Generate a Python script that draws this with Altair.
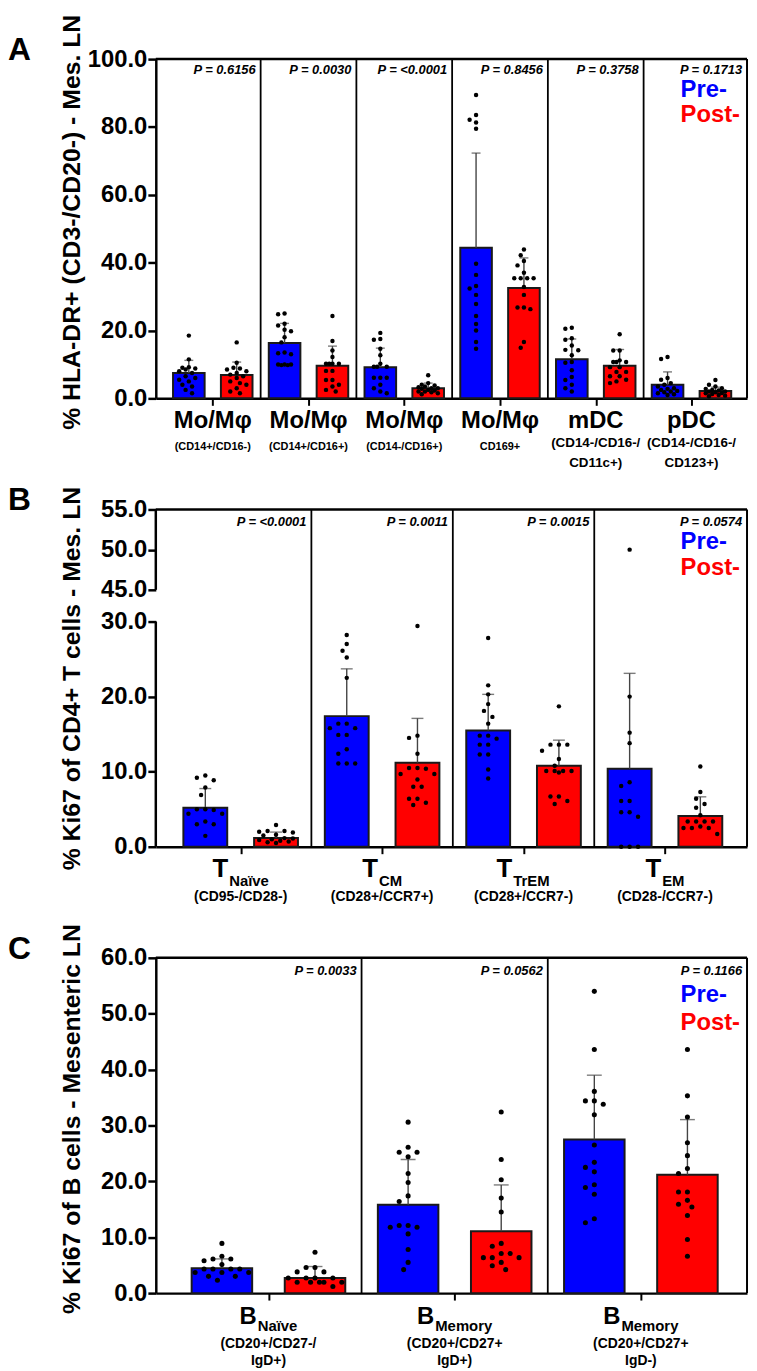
import altair as alt
import pandas as pd

FONT = "Liberation Sans"
BLUE = "#0000FF"
RED = "#FF0000"
W = 596

# ---------------- Panel A data ----------------
a_names = ["Mo/Mφ", "Mo/Mφ", "Mo/Mφ", "Mo/Mφ", "mDC", "pDC"]
a_subs = [["(CD14+/CD16-)"], ["(CD14+/CD16+)"], ["(CD14-/CD16+)"], ["CD169+"],
          ["(CD14-/CD16-/", "CD11c+)"], ["(CD14-/CD16-/", "CD123+)"]]
a_pvals = ["P = 0.6156", "P = 0.0030", "P = <0.0001", "P = 0.8456", "P = 0.3758", "P = 0.1713"]
a_pre_mean = [7.5, 16.3, 9.2, 44.4, 11.5, 4.0]
a_pre_sd = [3.7, 5.8, 5.6, 27.9, 6.0, 3.8]
a_post_mean = [6.9, 9.6, 3.0, 32.5, 9.6, 2.2]
a_post_sd = [3.8, 5.8, 1.5, 8.9, 4.8, 1.1]
a_pre_pts = [
    [18.5, 11.5, 9.2, 9.0, 8.8, 8.5, 8.0, 7.5, 6.5, 6.0, 5.5, 5.0, 4.0, 3.5, 2.5, 1.5],
    [25.0, 24.8, 22.0, 21.5, 20.2, 19.8, 18.0, 16.5, 13.5, 13.3, 13.0, 10.0, 10.0, 10.0, 9.8, 9.8],
    [19.3, 17.5, 17.3, 14.6, 12.7, 10.2, 9.3, 9.3, 9.3, 6.1, 6.1, 6.1, 4.0, 3.0, 2.0, 1.5],
    [89.4, 83.5, 82.1, 81.3, 79.5, 39.7, 36.4, 33.1, 32.4, 30.5, 27.8, 24.3, 21.9, 20.0, 16.6, 14.6],
    [20.8, 20.5, 17.7, 17.3, 15.6, 14.3, 14.2, 12.7, 10.7, 10.5, 8.3, 6.3, 5.4, 4.0, 3.0, 2.0],
    [12.2, 11.6, 6.0, 5.5, 4.5, 4.0, 3.5, 3.0, 2.8, 2.5, 2.2, 2.0, 1.8, 1.5, 1.2, 1.0],
]
a_post_pts = [
    [16.5, 10.5, 9.0, 8.8, 8.5, 8.0, 7.5, 7.0, 6.5, 6.0, 5.0, 4.5, 4.0, 3.0, 2.0, 1.5],
    [24.3, 16.9, 14.1, 12.2, 10.2, 10.2, 10.2, 10.2, 8.1, 8.1, 5.4, 5.4, 4.0, 3.5, 2.5, 2.0],
    [6.8, 4.5, 4.0, 3.8, 3.5, 3.3, 3.0, 3.0, 2.8, 2.5, 2.3, 2.0, 2.0, 1.8, 1.5, 1.2],
    [43.9, 42.2, 40.5, 39.2, 37.0, 35.4, 35.4, 35.4, 35.4, 32.8, 30.5, 26.8, 26.8, 26.3, 16.6, 14.9],
    [18.9, 14.1, 14.1, 11.2, 10.7, 10.7, 10.7, 9.2, 9.2, 7.8, 7.8, 6.5, 6.5, 5.5, 5.0, 4.5],
    [5.4, 4.0, 3.5, 3.0, 2.8, 2.5, 2.3, 2.0, 2.0, 1.8, 1.6, 1.5, 1.3, 1.0, 0.8, 0.6],
]
a_yticks = [0, 20, 40, 60, 80, 100]

# ---------------- Panel B data ----------------
b_main = ["T", "T", "T", "T"]
b_subscripts = ["Naïve", "CM", "TrEM", "EM"]
b_subs = ["(CD95-/CD28-)", "(CD28+/CCR7+)", "(CD28+/CCR7-)", "(CD28-/CCR7-)"]
b_pvals = ["P = <0.0001", "P = 0.0011", "P = 0.0015", "P = 0.0574"]
b_pre_mean = [5.2, 17.4, 15.5, 10.4]
b_pre_sd = [2.55, 6.3, 4.8, 12.7]
b_post_mean = [1.15, 11.2, 10.8, 4.1]
b_post_sd = [0.8, 5.9, 3.4, 2.55]
b_pre_pts = [
    [9.5, 9.2, 8.85, 7.9, 6.9, 5.0, 5.0, 4.9, 4.4, 4.4, 3.35, 3.0, 3.0, 1.45],
    [28.2, 27.0, 26.1, 25.2, 22.5, 16.4, 16.4, 15.8, 15.8, 14.9, 14.9, 13.0, 12.4, 11.1, 11.1, 11.1],
    [27.8, 21.5, 20.3, 19.0, 18.1, 17.3, 16.4, 14.8, 14.8, 14.4, 13.6, 13.6, 12.3, 12.3, 10.3, 9.1],
    [50.0, 20.0, 15.2, 13.8, 8.6, 8.1, 6.1, 6.1, 4.6, 4.6, 4.0, 0.0, 0.0, 0.0],
]
b_post_pts = [
    [2.9, 2.1, 2.1, 2.0, 1.9, 1.6, 1.5, 1.15, 1.1, 1.0, 0.9, 0.8, 0.7, 0.6, 0.5],
    [29.4, 14.8, 14.5, 12.4, 10.5, 10.5, 10.4, 9.7, 9.7, 8.95, 8.0, 8.0, 6.4, 6.4, 5.85, 5.55],
    [18.7, 13.6, 13.6, 13.6, 12.8, 11.7, 10.8, 10.1, 10.1, 10.1, 10.1, 9.9, 6.7, 6.7, 6.1, 5.7],
    [10.7, 7.3, 6.4, 5.7, 5.2, 4.2, 3.35, 3.35, 3.35, 3.35, 2.7, 2.5, 2.5, 2.5, 1.7],
]
b_yticks = [0, 10, 20, 30, 45, 50, 55]
b_breaks = [0, 30, 45, 55]

# ---------------- Panel C data ----------------
c_main = ["B", "B", "B"]
c_subscripts = ["Naïve", "Memory", "Memory"]
c_subs = [["(CD20+/CD27-/", "IgD+)"], ["(CD20+/CD27+", "IgD+)"], ["(CD20+/CD27+", "IgD-)"]]
c_pvals = ["P = 0.0033", "P = 0.0562", "P = 0.1166"]
c_pre_mean = [4.47, 15.8, 27.5]
c_pre_sd = [1.65, 8.1, 11.5]
c_post_mean = [2.7, 11.06, 21.2]
c_post_sd = [2.06, 8.3, 9.85]
c_pre_pts = [
    [8.9, 6.6, 6.1, 6.1, 5.8, 5.1, 4.3, 4.3, 4.3, 4.3, 3.7, 3.7, 3.7, 3.0, 3.0, 2.3],
    [30.6, 26.1, 25.2, 25.2, 24.4, 21.4, 19.8, 17.4, 16.4, 12.1, 12.1, 11.8, 11.8, 10.6, 7.8, 5.5, 4.2],
    [54.0, 43.6, 36.1, 34.4, 34.4, 33.8, 31.9, 26.5, 23.4, 22.5, 21.7, 19.4, 18.9, 17.7, 13.3, 12.6],
]
c_post_pts = [
    [7.3, 4.6, 4.6, 3.8, 3.8, 2.7, 2.7, 2.7, 2.7, 1.94, 1.94, 1.94, 1.94, 1.94, 1.2],
    [32.4, 23.9, 20.3, 17.0, 14.5, 8.9, 8.4, 7.1, 7.1, 6.35, 6.35, 6.35, 5.5, 4.9, 4.2],
    [43.6, 35.3, 31.5, 26.9, 24.6, 22.3, 21.4, 18.1, 18.1, 16.6, 15.9, 15.4, 13.9, 9.6, 6.6],
]
c_yticks = [0, 10, 20, 30, 40, 50, 60]

# ---------------- helpers ----------------
CW = {"T": .611, "B": .722, "N": .722, "a": .556, "ï": .278, "v": .556, "e": .556,
      "C": .722, "M": .833, "r": .389, "E": .667, "m": .889, "o": .611, "y": .556}


def text_w(s, fs):
    return sum(CW.get(ch, .6) for ch in s) * fs


def swarm(vals, ypx, step, maxoff):
    """Greedy beeswarm offsets (px) kept inside the bar width."""
    order = sorted(range(len(vals)), key=lambda i: -vals[i])
    placed = []
    offs = [0.0] * len(vals)
    half = step / 2.0
    cands = [0.0]
    m = 1
    while m * half <= maxoff + 1e-9:
        cands += [-m * half, m * half]
        m += 1
    for i in order:
        yp = vals[i] * ypx
        best, best_d = 0.0, -1.0
        chosen = None
        for c in cands:
            d = min([((c - px) ** 2 + (yp - py) ** 2) ** 0.5 for px, py in placed] or [1e9])
            if d >= step * 0.9:
                chosen = c
                break
            if d > best_d:
                best, best_d = c, d
        offs[i] = chosen if chosen is not None else best
        placed.append((offs[i], yp))
    return offs


def build_panel(n, pre_mean, pre_sd, post_mean, post_sd, pre_pts, post_pts, pvals,
                dom, H, yscale, yaxis, ypx, bw, cap, dot, step, p_y, leg_y, letter,
                axis_segments=None):
    xppu = W / (dom[1] - dom[0])
    maxoff = bw * xppu / 2 - 3
    bars, errs, pts = [], [], []
    for i in range(n):
        for j, (m, s, vals, cond) in enumerate([
                (pre_mean[i], pre_sd[i], pre_pts[i], "Pre"),
                (post_mean[i], post_sd[i], post_pts[i], "Post")]):
            k = 2 * i + j
            bars.append(dict(x=k - bw / 2, x2=k + bw / 2, y=m, y0=0, cond=cond))
            errs.append(dict(x=k, y=m, y2=m + s))
            offs = swarm(vals, ypx, step, maxoff)
            for v, o in zip(vals, offs):
                pts.append(dict(x=k + o / xppu, y=v))
    XS = alt.Scale(domain=dom, nice=False, zero=False)
    XA = alt.Axis(values=[2 * i + 0.5 for i in range(n)], labels=False, title=None,
                  grid=False, tickSize=7, tickWidth=2, tickColor="black",
                  domainWidth=2.5, domainColor="black")

    def X(f="x"):
        return alt.X(f + ":Q", scale=XS, axis=XA)

    def Y(f="y"):
        return alt.Y(f + ":Q", scale=yscale, axis=yaxis)

    color = alt.Color("cond:N", scale=alt.Scale(domain=["Pre", "Post"], range=[BLUE, RED]),
                      legend=None)
    one = pd.DataFrame({"a": [0]})
    layers = []
    layers.append(alt.Chart(pd.DataFrame(bars)).mark_bar(stroke="#1a1a1a", strokeWidth=2)
                  .encode(x=X(), x2="x2:Q", y=Y(), y2="y0:Q", color=color))
    edf = pd.DataFrame(errs)
    layers.append(alt.Chart(edf).mark_rule(color="#444", strokeWidth=1.4)
                  .encode(x=X(), y=Y(), y2="y2:Q"))
    layers.append(alt.Chart(edf).mark_tick(orient="horizontal", size=cap, thickness=1.4,
                                           color="#444")
                  .encode(x=X(), y=Y("y2")))
    layers.append(alt.Chart(pd.DataFrame(pts)).mark_circle(size=dot, color="black", opacity=1)
                  .encode(x=X(), y=Y()))
    # frame
    layers.append(alt.Chart(one).mark_rule(color="black", strokeWidth=2.5)
                  .encode(x=alt.value(0), x2=alt.value(W), y=alt.value(0)))
    layers.append(alt.Chart(one).mark_rule(color="black", strokeWidth=2)
                  .encode(x=alt.value(W), y=alt.value(0), y2=alt.value(H)))
    ddf = pd.DataFrame({"x": [2 * i + 1.5 for i in range(n - 1)]})
    layers.append(alt.Chart(ddf).mark_rule(color="black", strokeWidth=1.8)
                  .encode(x=X(), y=alt.value(0), y2=alt.value(H)))
    if axis_segments is not None:
        layers.append(alt.Chart(pd.DataFrame(axis_segments)).mark_rule(color="black", strokeWidth=2.5)
                      .encode(x=alt.value(0), y=Y(), y2="y2:Q"))
    pdf = pd.DataFrame({"x": [2 * i + 1.5 for i in range(n - 1)] + [dom[1]], "t": pvals})
    layers.append(alt.Chart(pdf).mark_text(align="right", dx=-5, baseline="middle", font=FONT,
                                           fontSize=13, fontWeight="bold", fontStyle="italic",
                                           color="black")
                  .encode(x=X(), y=alt.value(p_y), text="t:N"))
    layers.append(alt.Chart(pd.DataFrame({"t": ["Pre-"]})).mark_text(
        align="left", baseline="middle", font=FONT, fontSize=24, fontWeight="bold", color=BLUE)
        .encode(x=alt.value(529), y=alt.value(leg_y[0]), text="t:N"))
    layers.append(alt.Chart(pd.DataFrame({"t": ["Post-"]})).mark_text(
        align="left", baseline="middle", font=FONT, fontSize=24, fontWeight="bold", color=RED)
        .encode(x=alt.value(529), y=alt.value(leg_y[1]), text="t:N"))
    layers.append(alt.Chart(pd.DataFrame({"t": [letter]})).mark_text(
        align="left", baseline="alphabetic", font=FONT, fontSize=32, fontWeight="bold",
        color="black")
        .encode(x=alt.value(-149), y=alt.value(1), text="t:N"))
    return layers, X, xppu


def yaxis(values, title, H, titleY=None):
    kw = dict(values=values, format=".1f", title=title, grid=False, tickSize=8, tickWidth=2.5,
              tickColor="black", domainWidth=2.5, domainColor="black",
              labelFontSize=24, labelFontWeight="bold", labelPadding=1, labelColor="black",
              titleFontSize=25, titleFontWeight="bold", titleColor="black", titleAngle=270,
              titleX=-77, titleBaseline="alphabetic", titleAlign="center",
              titleY=titleY if titleY is not None else H / 2)
    return alt.Axis(**kw)


def sub_label_layers(X, xppu, n, mains, subscripts, H, fs_main, fs_sub, base_main, base_sub):
    rows_m, rows_s = [], []
    for i in range(n):
        c = 2 * i + 0.5
        wm = text_w(mains[i], fs_main)
        ws = text_w(subscripts[i], fs_sub)
        total = wm + 1 + ws
        start = c - (total / 2) / xppu
        rows_m.append(dict(x=start, t=mains[i]))
        rows_s.append(dict(x=start + (wm + 1) / xppu, t=subscripts[i]))
    lm = alt.Chart(pd.DataFrame(rows_m)).mark_text(
        align="left", baseline="alphabetic", font=FONT, fontSize=fs_main, fontWeight="bold",
        color="black").encode(x=X(), y=alt.value(H + base_main), text="t:N")
    ls = alt.Chart(pd.DataFrame(rows_s)).mark_text(
        align="left", baseline="alphabetic", font=FONT, fontSize=fs_sub, fontWeight="bold",
        color="black").encode(x=X(), y=alt.value(H + base_sub), text="t:N")
    return [lm, ls]


# ---------------- Panel A ----------------
HA = 342
domA = [-0.69, 11.66]
ysA = alt.Scale(domain=[0, 100], nice=False, zero=False)
yaA = yaxis(a_yticks, "% HLA-DR+ (CD3-/CD20-) - Mes. LN", HA, titleY=164)
layA, XA_, xpA = build_panel(6, a_pre_mean, a_pre_sd, a_post_mean, a_post_sd, a_pre_pts,
                             a_post_pts, a_pvals, domA, HA, ysA, yaA, HA / 100, 0.66, 9, 20, 6.5,
                             11, (31, 56), "A")
labA = pd.DataFrame({"x": [2 * i + 0.5 for i in range(6)], "t": a_names})
layA.append(alt.Chart(labA).mark_text(font=FONT, fontSize=24, fontWeight="bold",
                                      baseline="middle", color="black")
            .encode(x=XA_(), y=alt.value(HA + 23), text="t:N"))
sub1 = pd.DataFrame({"x": [2 * i + 0.5 for i in range(6) if len(a_subs[i]) == 1],
                     "t": [a_subs[i][0] for i in range(6) if len(a_subs[i]) == 1]})
layA.append(alt.Chart(sub1).mark_text(font=FONT, fontSize=11, fontWeight="bold",
                                      baseline="middle", color="black")
            .encode(x=XA_(), y=alt.value(HA + 49), text="t:N"))
sub2 = pd.DataFrame({"x": [2 * i + 0.5 for i in range(6) if len(a_subs[i]) == 2],
                     "t": ["\n".join(a_subs[i]) for i in range(6) if len(a_subs[i]) == 2]})
layA.append(alt.Chart(sub2).mark_text(font=FONT, fontSize=13.5, fontWeight="bold",
                                      baseline="top", lineBreak="\n", lineHeight=20,
                                      color="black")
            .encode(x=XA_(), y=alt.value(HA + 38), text="t:N"))
chartA = alt.layer(*layA).properties(width=W, height=HA)

# ---------------- Panel B ----------------
HB = 340
domB = [-0.70, 7.66]
ysB = alt.Scale(domain=b_breaks, range=[HB, HB - 227, HB - 259, 0], nice=False, zero=False)
yaB = alt.Axis(values=b_yticks, format=".1f", title="% Ki67 of CD4+ T cells - Mes. LN",
               grid=False, tickSize=8, tickWidth=2.5, tickColor="black", domain=False,
               labelFontSize=24, labelFontWeight="bold", labelPadding=1, labelColor="black",
               titleFontSize=25, titleFontWeight="bold", titleColor="black", titleAngle=270,
               titleX=-77, titleBaseline="alphabetic", titleAlign="center", titleY=HB / 2)
segs = {"y": [b_breaks[0], b_breaks[2]], "y2": [b_breaks[1], b_breaks[3]]}
layB, XB_, xpB = build_panel(4, b_pre_mean, b_pre_sd, b_post_mean, b_post_sd, b_pre_pts,
                             b_post_pts, b_pvals, domB, HB, ysB, yaB, 227 / 30, 0.62, 12, 20,
                             8.5, 13, (33, 59), "B", axis_segments=segs)
layB += sub_label_layers(XB_, xpB, 4, b_main, b_subscripts, HB, 26, 15, 31, 40)
sB = pd.DataFrame({"x": [2 * i + 0.5 for i in range(4)], "t": b_subs})
layB.append(alt.Chart(sB).mark_text(font=FONT, fontSize=14, fontWeight="bold",
                                    baseline="middle", color="black")
            .encode(x=XB_(), y=alt.value(HB + 51), text="t:N"))
chartB = alt.layer(*layB).properties(width=W, height=HB)

# ---------------- Panel C ----------------
HC = 338
domC = [-0.71, 5.64]
ysC = alt.Scale(domain=[0, 60], nice=False, zero=False)
yaC = yaxis(c_yticks, "% Ki67 of B cells - Mesenteric LN", HC, titleY=162)
layC, XC_, xpC = build_panel(3, c_pre_mean, c_pre_sd, c_post_mean, c_post_sd, c_pre_pts,
                             c_post_pts, c_pvals, domC, HC, ysC, yaC, HC / 60, 0.65, 15, 26,
                             9, 13, (38, 66), "C")
layC += sub_label_layers(XC_, xpC, 3, c_main, c_subscripts, HC, 24, 15, 31, 38)
sC = pd.DataFrame({"x": [2 * i + 0.5 for i in range(3)], "t": ["\n".join(s) for s in c_subs]})
layC.append(alt.Chart(sC).mark_text(font=FONT, fontSize=14, fontWeight="bold",
                                    baseline="top", lineBreak="\n", lineHeight=17,
                                    color="black")
            .encode(x=XC_(), y=alt.value(HC + 44), text="t:N"))
chartC = alt.layer(*layC).properties(width=W, height=HC)

chart = alt.vconcat(chartA, chartB, chartC, spacing=112, bounds="flush").properties(
    padding=0
).configure_view(strokeWidth=0).configure_axis(labelFont=FONT, titleFont=FONT)

chart.save("out.html", embed_options={"renderer": "svg", "actions": False})
